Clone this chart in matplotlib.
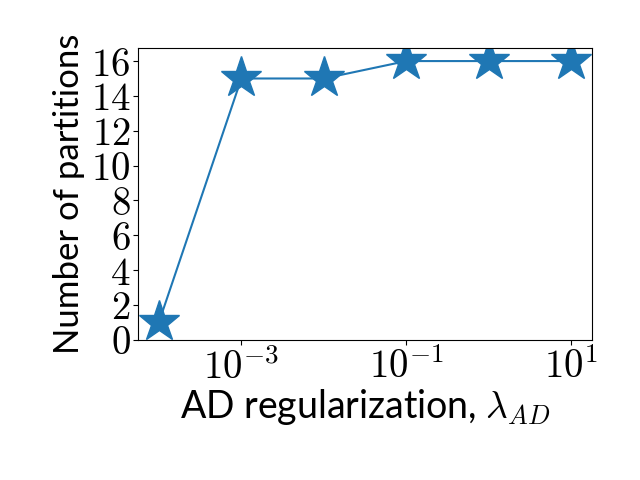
import math
import matplotlib
matplotlib.use("Agg")
import matplotlib.pyplot as plt
from matplotlib.ticker import FuncFormatter

plt.rcParams['mathtext.fontset'] = 'cm'
plt.rcParams['font.family'] = ['Lato', 'DejaVu Sans']

# ---- data ----
lambda_ad = [1e-4, 1e-3, 1e-2, 1e-1, 1, 10]
n_partitions = [1, 15, 15, 16, 16, 16]

fig = plt.figure(figsize=(6.4, 4.8), dpi=100)
ax = fig.add_axes([0.216, 0.292, 0.709, 0.608])

ax.plot(lambda_ad, n_partitions, marker='*', markersize=31, color='#1f77b4')
ax.set_xscale('log')
ax.set_ylim(bottom=0)
ax.set_yticks(range(0, 17, 2))
ax.yaxis.set_major_formatter(FuncFormatter(lambda v, p: r'$%d$' % v))
ax.set_xticks([1e-3, 1e-1, 1e1])
ax.xaxis.set_major_formatter(FuncFormatter(lambda v, p: r'$10^{%d}$' % round(math.log10(v))))
ax.tick_params(labelsize=28, pad=2)

ax.set_xlabel(r'AD regularization, $\lambda_{AD}$', fontsize=27, labelpad=1)
ax.set_ylabel('Number of partitions', fontsize=25, labelpad=4)

fig.savefig('out.png', dpi=100)
